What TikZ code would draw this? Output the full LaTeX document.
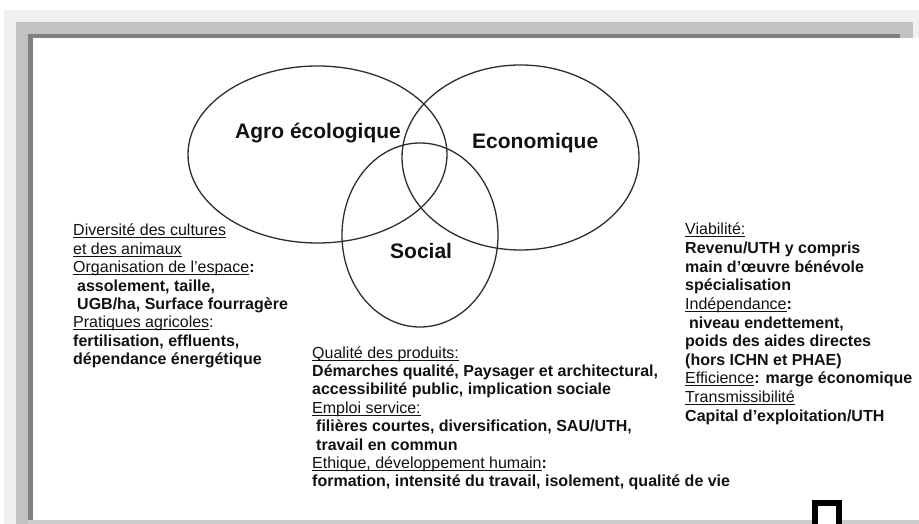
\documentclass[tikz,border=0pt]{standalone}
\usepackage{fontspec}
\setmainfont{Liberation Sans}
\definecolor{bandA}{gray}{0.94}
\definecolor{bandB}{gray}{0.76}
\definecolor{bandC}{gray}{0.50}
\definecolor{bandD}{gray}{0.80}
\definecolor{ink}{gray}{0.07}
\definecolor{lineink}{gray}{0.18}
\newlength\myulw
\newcommand\myul[1]{\settowidth\myulw{#1}\rlap{\rule[-2.4bp]{\myulw}{0.9bp}}#1}
\tikzset{
  venn/.style={draw=lineink, line width=1.3bp},
  vlabel/.style={anchor=base west, inner sep=0pt, text=ink, font=\fontsize{21bp}{24bp}\selectfont\bfseries},
  textblock/.style={anchor=base west, inner sep=0pt, align=left, text=ink, font=\fontsize{16bp}{18.4bp}\selectfont},
}
\begin{document}
\begin{tikzpicture}[x=1bp,y=-1bp]
\useasboundingbox (0,0) rectangle (919,524);
% frame
\fill[bandA] (4,10) rectangle (919,524);
\fill[bandB] (16,22) rectangle (913,524);
\fill[bandC] (28,34) rectangle (900,524);
\fill[white] (33,38) rectangle (919,520);
\fill[bandD] (28,520) rectangle (919,524);
% black mark
\fill[black] (812,500) rectangle (842,524);
\fill[white] (818,506) rectangle (836,524);
% ellipses
\draw[venn] (317.5,154.5) ellipse [x radius=129.5, y radius=88.5];
\draw[venn] (520.5,157.5) ellipse [x radius=118.5, y radius=92.5];
\draw[venn] (420,235) ellipse [x radius=78, y radius=92];
% labels
\node[vlabel] (agro) at (235,139) {Agro écologique};
\node[vlabel] (eco) at (472,149) {Economique};
\node[vlabel] (soc) at (390,259) {Social};
% text blocks (anchor = baseline of last line)
\node[textblock] (left) at (73,364.8) {%
\myul{Diversité des cultures}\\
\myul{et des animaux}\\
\myul{Organisation de l'espace}\textbf{:}\\
\textbf{\hspace{4bp}assolement, taille,}\\
\textbf{\hspace{4bp}UGB/ha, Surface fourragère}\\
\myul{Pratiques agricoles}:\\
\textbf{fertilisation, effluents,}\\
\textbf{dépendance énergétique}};
\node[textblock] (mid) at (312,486.8) {%
\myul{Qualité des produits:}\\
\textbf{Démarches qualité, Paysager et architectural,}\\
\textbf{accessibilité public, implication sociale}\\
\myul{Emploi service:}\\
\textbf{\hspace{4bp}filières courtes, diversification, SAU/UTH,}\\
\textbf{\hspace{4bp}travail en commun}\\
\myul{Ethique, développement humain}\textbf{:}\\
\textbf{formation, intensité du travail, isolement, qualité de vie}};
\node[textblock, font=\fontsize{16bp}{18.6bp}\selectfont] (right) at (685,421) {%
\myul{Viabilité:}\\
\textbf{Revenu/UTH y compris}\\
\textbf{main d’œuvre bénévole}\\
\textbf{spécialisation}\\
\myul{Indépendance}\textbf{:}\\
\textbf{\hspace{4bp}niveau endettement,}\\
\textbf{poids des aides directes}\\
\textbf{(hors ICHN et PHAE)}\\
\myul{Efficience}\textbf{: marge économique}\\
\myul{Transmissibilité}\\
\textbf{Capital d’exploitation/UTH}};
\end{tikzpicture}
\end{document}
